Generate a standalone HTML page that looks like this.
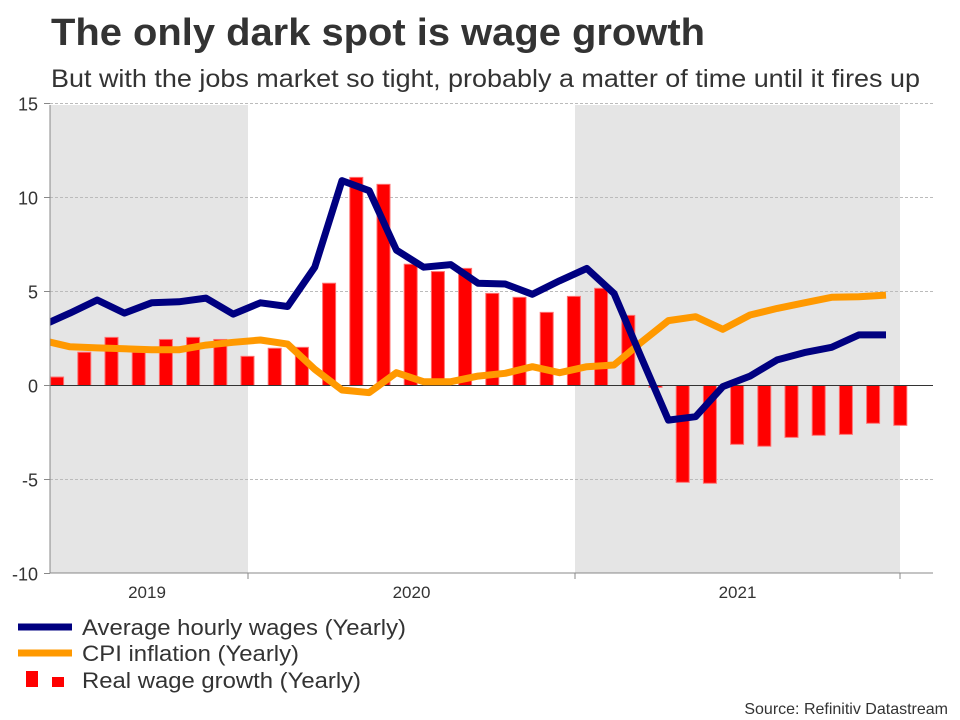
<!DOCTYPE html>
<html><head><meta charset="utf-8"><style>
body{margin:0;background:#fff;font-family:"Liberation Sans",Arial,sans-serif;}
svg{display:block}
</style></head><body>
<svg id="chart" width="960" height="720" xmlns="http://www.w3.org/2000/svg" font-family="Liberation Sans, Arial, sans-serif">
<text x="51" y="45" font-size="38" font-weight="bold" fill="#333" textLength="654" lengthAdjust="spacingAndGlyphs">The only dark spot is wage growth</text>
<text x="51" y="87" font-size="25" fill="#333" textLength="869" lengthAdjust="spacingAndGlyphs">But with the jobs market so tight, probably a matter of time until it fires up</text>
<g id="plot"></g>
<g>
<line x1="18" y1="627" x2="72" y2="627" stroke="#000080" stroke-width="7"/>
<text x="82" y="635" font-size="22" fill="#333" textLength="324" lengthAdjust="spacingAndGlyphs">Average hourly wages (Yearly)</text>
<line x1="18" y1="653" x2="72" y2="653" stroke="#ff9900" stroke-width="7"/>
<text x="82" y="661" font-size="22" fill="#333" textLength="217" lengthAdjust="spacingAndGlyphs">CPI inflation (Yearly)</text>
<rect x="26" y="671" width="12" height="16" fill="#f00"/>
<rect x="52" y="677" width="12" height="10" fill="#f00"/>
<text x="82" y="688" font-size="22" fill="#333" textLength="279" lengthAdjust="spacingAndGlyphs">Real wage growth (Yearly)</text>
</g>
<text x="948" y="714" font-size="16" fill="#333" text-anchor="end">Source: Refinitiv Datastream</text>
</svg>
<script>
const months = ["2019-05","2019-06","2019-07","2019-08","2019-09","2019-10","2019-11","2019-12","2020-01","2020-02","2020-03","2020-04","2020-05","2020-06","2020-07","2020-08","2020-09","2020-10","2020-11","2020-12","2021-01","2021-02","2021-03","2021-04","2021-05","2021-06","2021-07","2021-08","2021-09","2021-10","2021-11","2021-12"];
const wages = [3.2,3.85,4.55,3.85,4.4,4.45,4.65,3.8,4.4,4.2,6.3,10.9,10.36,7.2,6.29,6.43,5.44,5.4,4.85,5.57,6.23,4.9,1.5,-1.84,-1.66,-0.06,0.5,1.36,1.75,2.03,2.69,2.69];
const cpi = [2.4,2.06,2.0,1.95,1.9,1.9,2.15,2.3,2.42,2.2,0.86,-0.24,-0.38,0.68,0.2,0.2,0.5,0.65,1.0,0.68,1.0,1.09,2.3,3.45,3.66,2.99,3.75,4.1,4.4,4.69,4.72,4.81];
const realWage = [0.45,1.77,2.56,1.77,2.45,2.56,2.45,1.55,1.98,2.03,5.44,11.07,10.7,6.45,6.06,6.23,4.9,4.69,3.89,4.74,5.17,3.73,-0.1,-5.15,-5.2,-3.13,-3.23,-2.76,-2.65,-2.6,-2.01,-2.12];
const yTicks = [15,10,5,0,-5,-10];
const years = ["2019","2020","2021"];
const yearBounds = [50,248,575,900];

const NS="http://www.w3.org/2000/svg";
const plot=document.getElementById('plot');
const X0=50,X1=933,Y0=105,Y1=573;
function y(v){return 385.5-18.8*v;}
function lineX(i){return 42.8+27.2*i;}
function barX(i){return 29.6+27.2*i;}
function mk(tag,attrs){const e=document.createElementNS(NS,tag);for(const k in attrs)e.setAttribute(k,attrs[k]);plot.appendChild(e);return e;}

let s1=mk('rect',{x:yearBounds[0],y:Y0,width:yearBounds[1]-yearBounds[0],height:Y1-Y0,fill:'#e5e5e5'});


let s2=mk('rect',{x:yearBounds[2],y:Y0,width:yearBounds[3]-yearBounds[2],height:Y1-Y0,fill:'#e5e5e5'});



yTicks.forEach(t=>{
  if(t!==0&&t!==-10){let g=mk('line',{x1:X0,x2:X1,y1:y(t),y2:y(t),stroke:'#bbb','stroke-dasharray':'3,2','stroke-width':1});
  
  }
  let tk=mk('line',{x1:44,x2:X0,y1:y(t),y2:y(t),stroke:'#888'});
  
  
  let tx=mk('text',{x:38,y:y(t)+7,'font-size':18,fill:'#333','text-anchor':'end'});
  tx.textContent=t;
  
  
});

const clip=mk('clipPath',{id:'pc'});
const cr=document.createElementNS(NS,'rect');cr.setAttribute('x',X0);cr.setAttribute('y',Y0-10);cr.setAttribute('width',X1-X0);cr.setAttribute('height',Y1-Y0+10);clip.appendChild(cr);

realWage.forEach((v,i)=>{
  const top=Math.min(y(v),y(0)),h=Math.abs(y(v)-y(0));
  let b=mk('rect',{x:barX(i)+21,y:top,width:13,height:h,fill:'#f00',stroke:'#ff7070','stroke-width':1});
  
  
});
let z=mk('line',{x1:X0,x2:X1,y1:y(0),y2:y(0),stroke:'#333','stroke-width':1});



function series(arr,color,name){
  const d=arr.map((v,i)=>(i?'L':'M')+lineX(i).toFixed(1)+','+y(v).toFixed(1)).join('');
  let p=mk('path',{d:d,fill:'none',stroke:color,'stroke-width':7,'stroke-linejoin':'round','clip-path':'url(#pc)'});
  
  
}
series(cpi,'#ff9900','line-cpi-inflation');
series(wages,'#000080','line-average-hourly-wages');

let ax=mk('line',{x1:X0,x2:X0,y1:Y0,y2:Y1,stroke:'#888'});


let bx=mk('line',{x1:X0,x2:X1,y1:Y1,y2:Y1,stroke:'#888'});


yearBounds.slice(1).forEach(xb=>{
  let t=mk('line',{x1:xb,x2:xb,y1:Y1,y2:Y1+6,stroke:'#888'});
  
  
});
years.forEach((yr,i)=>{
  const cx=i===0?147:(yearBounds[i]+yearBounds[i+1])/2;
  let t=mk('text',{x:cx,y:598,'font-size':17,fill:'#333','text-anchor':'middle'});
  t.textContent=yr;
  
  
});
</script>
</body></html>
